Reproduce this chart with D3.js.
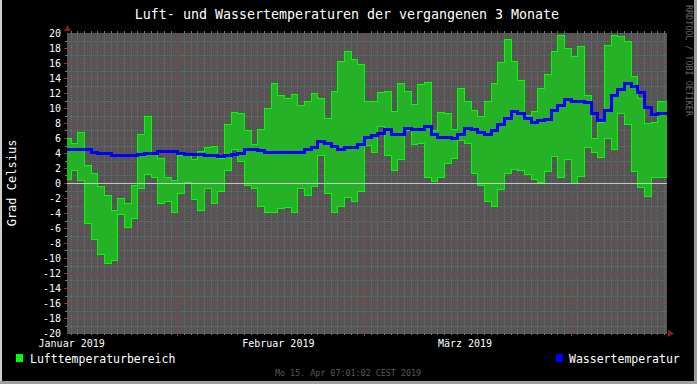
<!DOCTYPE html>
<html>
<head>
<meta charset="utf-8">
<script src="https://cdn.jsdelivr.net/npm/d3@7"></script>
<style>
body { margin: 0; background: #000; }
svg { display: block; }
</style>
</head>
<body>
<script>

// daily values, 15 Jan 2019 .. 15 Apr 2019

var tempMax = [6.0, 5.3, 6.8, 2.4, 1.4, -0.4, -1.6, -3.6, -2.0, -2.6,
    -0.3, 6.5, 8.9, 4.1, 3.3, 0.8, 0.4, 3.7, 3.7, 3.2,
    4.3, 4.8, 4.9, 3.3, 7.8, 9.5, 9.3, 7.1, 5.2, 7.2,
    10.0, 13.3, 11.7, 11.4, 11.8, 10.4, 10.9, 12.0, 11.3, 8.6,
    12.2, 16.2, 17.6, 16.5, 15.9, 11.0, 10.9, 12.1, 12.3, 9.6,
    13.4, 12.3, 10.5, 13.2, 13.5, 7.1, 9.5, 9.3, 7.2, 12.6,
    11.0, 9.7, 8.9, 11.0, 13.4, 16.1, 19.2, 16.3, 13.7, 9.1,
    9.6, 12.6, 14.6, 17.6, 19.7, 18.0, 16.9, 18.2, 11.7, 6.0,
    8.2, 18.4, 19.8, 19.6, 18.9, 14.2, 11.4, 8.0, 8.2, 11.0,
    11.0];

var tempMin = [0.5, 1.7, 0.4, -5.3, -7.5, -9.5, -10.6, -10.3, -4.1, -5.8,
    -4.6, -0.6, 1.2, 0.8, -2.7, -2.4, -3.9, -1.4, 0.2, -2.2,
    -3.6, -0.6, -2.7, -1.0, 1.7, 4.5, 3.0, -0.2, -0.6, -3.1,
    -3.9, -3.8, -3.4, -3.2, -3.8, -0.7, -1.6, -0.4, 3.7, -1.4,
    -3.9, -3.0, -1.9, -2.4, -1.1, 5.1, 4.2, 7.6, 3.7, 1.7,
    3.2, 7.0, 5.2, 5.4, 0.8, 0.3, 0.8, 2.7, 3.3, 5.7,
    5.4, 1.3, -0.3, -2.4, -3.1, -0.8, 1.4, 1.9, 1.7, 1.2,
    0.6, 0.2, 1.6, 3.6, 0.8, 3.2, 0.0, 0.9, 4.8, 4.1,
    3.5, 6.0, 4.5, 9.3, 7.8, 1.6, -0.5, -1.7, 0.8, 0.8,
    0.8];

var water = [4.6, 4.6, 4.6, 4.5, 4.2, 4.05, 3.95, 3.8, 3.8, 3.8,
    3.8, 3.9, 4.05, 4.05, 4.25, 4.25, 4.25, 4.05, 3.9, 3.9,
    3.9, 3.8, 3.8, 3.65, 3.8, 3.9, 4.05, 4.5, 4.5, 4.35,
    4.2, 4.1, 4.1, 4.1, 4.1, 4.2, 4.5, 4.75, 5.55, 5.4,
    4.9, 4.6, 4.75, 4.75, 5.15, 6.1, 6.35, 6.7, 7.15, 6.6,
    6.6, 7.4, 7.15, 7.15, 7.55, 6.5, 6.2, 6.1, 5.95, 6.5,
    7.4, 7.15, 6.75, 6.6, 7.0, 7.8, 8.6, 9.55, 9.3, 8.6,
    8.1, 8.35, 8.5, 9.8, 10.35, 11.15, 11.0, 11.0, 10.75, 9.3,
    8.35, 9.7, 11.7, 12.5, 13.3, 13.0, 12.1, 10.2, 9.15, 9.3,
    9.3];

var yTicks = [20, 18, 16, 14, 12, 10, 8, 6, 4, 2, 0, -2, -4, -6, -8, -10, -12, -14, -16, -18, -20];
var monthLabels = ["Januar 2019", "Februar 2019", "März 2019"];
var monthLabelDays = ["2019-01-16", "2019-02-16", "2019-03-16"];
var legendNames = ["Lufttemperaturbereich", "Wassertemperatur"];

var W = 697, H = 384;
var L = 67, R = 667, T = 33, B = 333;
var mono = "'DejaVu Sans Mono', monospace";

var svg = d3.select("body")
    .append("svg")
    .attr("width", W)
    .attr("height", H);

svg.append("rect").attr("width", W).attr("height", H).attr("fill", "#000");

// frame
svg.append("rect").attr("x", 0).attr("y", 0).attr("width", 2).attr("height", H).attr("fill", "#cfcfcf");
svg.append("rect").attr("x", W - 3).attr("y", 0).attr("width", 3).attr("height", H).attr("fill", "#9e9e9e");
svg.append("rect").attr("x", 0).attr("y", H - 3).attr("width", W).attr("height", 3).attr("fill", "#9e9e9e");

var x = d3.scaleUtc()
    .domain([Date.UTC(2019, 0, 15, 10, 48), Date.UTC(2019, 3, 15, 10, 48)])
    .range([L, R]);

var y = d3.scaleLinear().domain([-20, 20]).range([B, T]);

var px = function(v) { return Math.round(v) + 0.5; }

// canvas
svg.append("rect").attr("x", L).attr("y", T).attr("width", R - L).attr("height", B - T + 1)
    .attr("fill", "#555555");

var grid = svg.append("g").attr("shape-rendering", "crispEdges");

// minor grid, every degree and every day
var minorColor = "#6d6d6d";
var majorColor = "#8a4848";

d3.range(-19, 20, 2).forEach(function(v) {
    grid.append("line").attr("x1", L).attr("x2", R).attr("y1", px(y(v))).attr("y2", px(y(v)))
        .attr("stroke", minorColor).attr("stroke-dasharray", "1,1");
    grid.append("line").attr("x1", L - 2).attr("x2", L).attr("y1", px(y(v))).attr("y2", px(y(v)))
        .attr("stroke", "#777");
});

d3.utcDay.range(x.domain()[0], x.domain()[1]).forEach(function(d) {
    if (d.getUTCDate() == 1) return;
    var xx = px(x(d));
    grid.append("line").attr("x1", xx).attr("x2", xx).attr("y1", T).attr("y2", B)
        .attr("stroke", minorColor).attr("stroke-dasharray", "1,1");
    grid.append("line").attr("x1", xx).attr("x2", xx).attr("y1", T - 2).attr("y2", T)
        .attr("stroke", "#777");
    grid.append("line").attr("x1", xx).attr("x2", xx).attr("y1", B).attr("y2", B + 2)
        .attr("stroke", "#777");
});

// major grid
yTicks.forEach(function(v) {
    if (v == 20 || v == -20) return;
    grid.append("line").attr("x1", L).attr("x2", R).attr("y1", px(y(v))).attr("y2", px(y(v)))
        .attr("stroke", majorColor).attr("stroke-dasharray", "1,1");
    grid.append("line").attr("x1", L - 3).attr("x2", L).attr("y1", px(y(v))).attr("y2", px(y(v)))
        .attr("stroke", "#a03030");
});

d3.utcMonth.range(x.domain()[0], x.domain()[1]).forEach(function(d) {
    var xx = px(x(d));
    grid.append("line").attr("x1", xx).attr("x2", xx).attr("y1", T).attr("y2", B)
        .attr("stroke", majorColor).attr("stroke-dasharray", "1,1");
    grid.append("line").attr("x1", xx).attr("x2", xx).attr("y1", B).attr("y2", B + 3)
        .attr("stroke", "#a03030");
});

// data rows, one per day, plus a closing point for the last step
var days = d3.utcDay.range(Date.UTC(2019, 0, 15), Date.UTC(2019, 3, 16));
var rows = days.map(function(d, i) {
    return { d: d, lo: tempMin[i], hi: tempMax[i], w: water[i] };
});
var last = rows[rows.length - 1];
rows.push({ d: d3.utcDay.offset(last.d, 1), lo: last.lo, hi: last.hi, w: last.w });

svg.append("clipPath").attr("id", "plot")
    .append("rect").attr("x", L).attr("y", T).attr("width", R - L).attr("height", B - T + 1);

var plot = svg.append("g").attr("clip-path", "url(#plot)");

var area = d3.area()
    .curve(d3.curveStepAfter)
    .x(function(r) { return Math.round(x(r.d)) + 0.5; })
    .y0(function(r) { return px(y(r.lo)); })
    .y1(function(r) { return px(y(r.hi)); });

plot.append("path")
    .datum(rows)
    .attr("d", area)
    .attr("fill", "#26b226")
    .attr("stroke", "#00ff00")
    .attr("stroke-width", 1)
    .attr("shape-rendering", "crispEdges");

// zero line
plot.append("line").attr("x1", L).attr("x2", R).attr("y1", px(y(0))).attr("y2", px(y(0)))
    .attr("stroke", "#c8c8c8").attr("shape-rendering", "crispEdges");

var waterLine = d3.line()
    .curve(d3.curveStepAfter)
    .x(function(r) { return Math.round(x(r.d)); })
    .y(function(r) { return Math.round(y(r.w)); });

plot.append("path")
    .datum(rows)
    .attr("d", waterLine)
    .attr("fill", "none")
    .attr("stroke", "#0000ff")
    .attr("stroke-width", 3)
    .attr("shape-rendering", "crispEdges");

// arrows
svg.append("path").attr("d", "M" + (L - 3) + "," + (T - 2) + "L" + (L + 4) + "," + (T - 2) + "L" + (L + 0.5) + "," + (T - 8) + "Z")
    .attr("fill", "#8b1a1a");
svg.append("path").attr("d", "M" + (R + 1) + "," + (B - 3) + "L" + (R + 1) + "," + (B + 4) + "L" + (R + 7) + "," + (B + 0.5) + "Z")
    .attr("fill", "#8b1a1a");

// texts
svg.append("text")
    .attr("x", 347).attr("y", 18.5)
    .attr("text-anchor", "middle")
    .attr("font-family", mono).attr("font-size", 13.3)
    .attr("fill", "#ffffff")
    .text("Luft- und Wassertemperaturen der vergangenen 3 Monate");

svg.selectAll(".ylab")
    .data(yTicks)
    .enter()
    .append("text")
    .attr("class", "ylab")
    .attr("x", 61)
    .attr("y", function(v) { return y(v) + 3.5; })
    .attr("text-anchor", "end")
    .attr("font-family", mono).attr("font-size", 10)
    .attr("fill", "#ffffff")
    .text(function(v) { return v; });

svg.selectAll(".xlab")
    .data(monthLabels)
    .enter()
    .append("text")
    .attr("class", "xlab")
    .attr("x", function(s, i) { return x(new Date(monthLabelDays[i] + "T00:00:00Z")) + 1; })
    .attr("y", 347)
    .attr("text-anchor", "middle")
    .attr("font-family", mono).attr("font-size", 10)
    .attr("fill", "#ffffff")
    .text(function(s) { return s; });

svg.append("text")
    .attr("transform", "translate(16,183) rotate(-90)")
    .attr("text-anchor", "middle")
    .attr("font-family", mono).attr("font-size", 12)
    .attr("fill", "#ffffff")
    .text("Grad Celsius");

// legend
svg.append("rect").attr("x", 16).attr("y", 354).attr("width", 7).attr("height", 8).attr("fill", "#00ff00");
svg.append("text").attr("x", 30).attr("y", 362.5)
    .attr("font-family", mono).attr("font-size", 11.5).attr("fill", "#ffffff")
    .text(legendNames[0]);

svg.append("rect").attr("x", 556).attr("y", 354).attr("width", 7).attr("height", 8).attr("fill", "#0000ff");
svg.append("text").attr("x", 569).attr("y", 362.5)
    .attr("font-family", mono).attr("font-size", 11.5).attr("fill", "#ffffff")
    .text(legendNames[1]);

svg.append("text")
    .attr("x", 348).attr("y", 376)
    .attr("text-anchor", "middle")
    .attr("font-family", mono).attr("font-size", 8.4)
    .attr("fill", "#5a5a5a")
    .text("Mo 15. Apr 07:01:02 CEST 2019");

svg.append("text")
    .attr("transform", "translate(686,5) rotate(90)")
    .attr("font-family", mono).attr("font-size", 8.4)
    .attr("fill", "#6a6a6a")
    .text("RRDTOOL / TOBI OETIKER");

</script>
</body>
</html>
